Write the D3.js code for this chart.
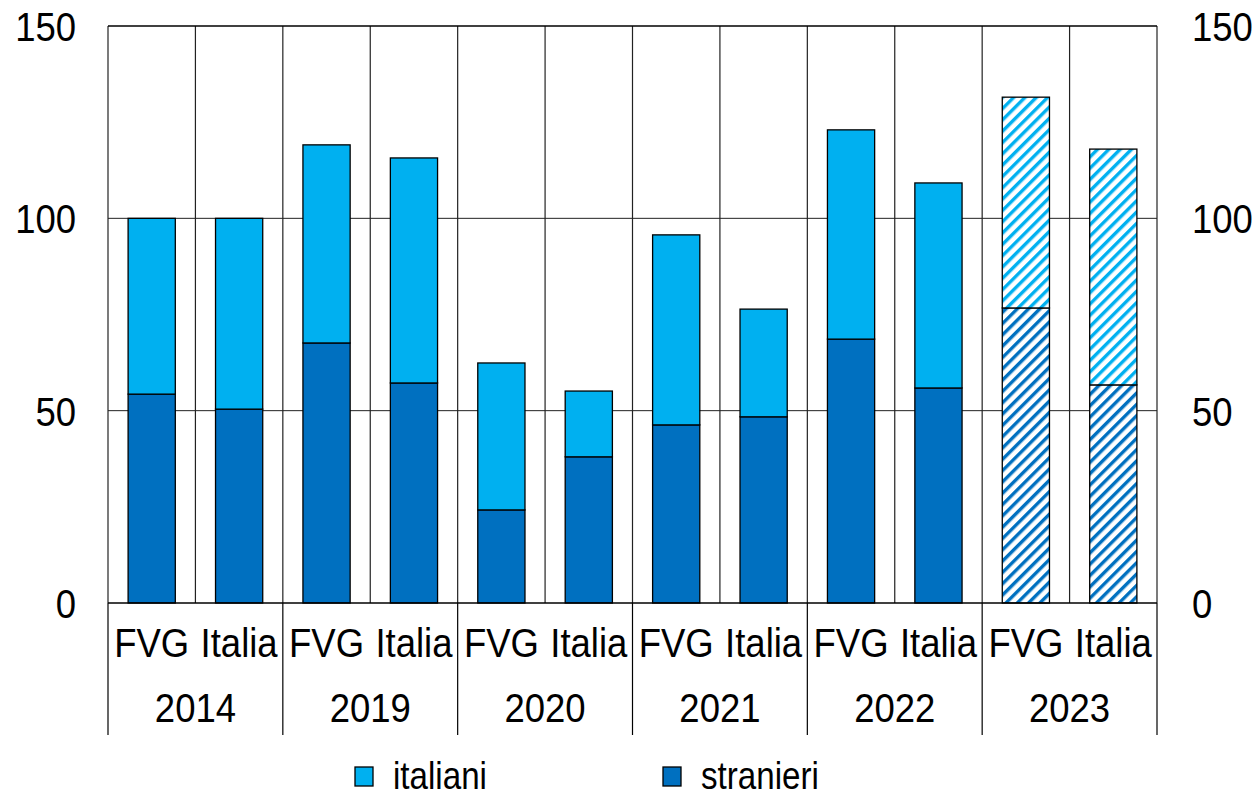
<!DOCTYPE html>
<html>
<head>
<meta charset="utf-8">
<script src="https://cdn.jsdelivr.net/npm/d3@7"></script>
<style>
  body { margin: 0; background: #fff; }
  svg { display: block; font-family: "Liberation Sans", Arial, sans-serif; }
</style>
</head>
<body>
<div id="viz"></div>
<script>
// Data
const years = ["2014", "2019", "2020", "2021", "2022", "2023"];
const areas = ["FVG", "Italia"];
const stranieri = [54.3, 50.4, 67.6, 57.2, 24.2, 38.0, 46.3, 48.4, 68.6, 55.9, 76.7, 56.7];
const italiani  = [45.7, 49.6, 51.5, 58.5, 38.2, 17.1, 49.4, 28.0, 54.4, 53.3, 54.8, 61.3];
const yTicks = [0, 50, 100, 150];
const hatchedYear = "2023";

const width = 1258, height = 799;
const margin = { top: 26, right: 101, bottom: 196, left: 108 };

const svg = d3.select("#viz").append("svg")
    .attr("width", width)
    .attr("height", height);

// patterns for the estimated year
const defs = svg.append("defs");
[["hatch-it", "#00B0F0"], ["hatch-st", "#0070C0"]].forEach(([id, col]) => {
    const p = defs.append("pattern")
        .attr("id", id)
        .attr("patternUnits", "userSpaceOnUse")
        .attr("width", 8).attr("height", 8)
        .attr("patternTransform", "rotate(45)");
    p.append("rect").attr("width", 8).attr("height", 8).attr("fill", "#fff");
    p.append("rect").attr("x", 0).attr("width", 3.4).attr("height", 8).attr("fill", col);
});

// rows: one per bar
const rows = [];
years.forEach((yr, i) => {
    areas.forEach((a, j) => {
        const k = i * 2 + j;
        rows.push({ key: yr + "-" + a, year: yr, area: a, stranieri: stranieri[k], italiani: italiani[k] });
    });
});

const x = d3.scaleBand()
    .domain(rows.map(d => d.key))
    .range([margin.left, width - margin.right])
    .paddingInner(0.46)
    .paddingOuter(0.23);

const xYear = d3.scaleBand()
    .domain(years)
    .range([margin.left, width - margin.right]);

const y = d3.scaleLinear()
    .domain([0, 150])
    .range([height - margin.bottom, margin.top]);

const x0 = margin.left, x1 = width - margin.right;

// horizontal gridlines
svg.append("g").selectAll("line")
    .data(yTicks.filter(t => t > 0 && t < 150))
    .join("line")
    .attr("x1", x0).attr("x2", x1)
    .attr("y1", d => y(d)).attr("y2", d => y(d))
    .attr("stroke", "#222").attr("stroke-width", 1);

// vertical separators inside the plot (every slot)
const slotEdges = d3.range(rows.length + 1).map(i => x0 + i * (x1 - x0) / rows.length);
svg.append("g").selectAll("line")
    .data(slotEdges)
    .join("line")
    .attr("x1", d => d).attr("x2", d => d)
    .attr("y1", y(150)).attr("y2", y(0))
    .attr("stroke", "#222").attr("stroke-width", 1.2);

// year separators extending below axis
svg.append("g").selectAll("line")
    .data(years.map(yr => xYear(yr)).concat([x1]))
    .join("line")
    .attr("x1", d => d).attr("x2", d => d)
    .attr("y1", y(0)).attr("y2", 735)
    .attr("stroke", "#000").attr("stroke-width", 1.2);

// top border
svg.append("line")
    .attr("x1", x0).attr("x2", x1)
    .attr("y1", y(150)).attr("y2", y(150))
    .attr("stroke", "#000").attr("stroke-width", 1.5);

// stacked bars
const bars = svg.append("g");
rows.forEach(d => {
    const hatched = d.year === hatchedYear;
    bars.append("rect")
        .attr("x", x(d.key))
        .attr("width", x.bandwidth())
        .attr("y", y(d.stranieri))
        .attr("height", y(0) - y(d.stranieri))
        .attr("fill", hatched ? "url(#hatch-st)" : "#0070C0")
        .attr("stroke", "#000").attr("stroke-width", 1.3);
    bars.append("rect")
        .attr("x", x(d.key))
        .attr("width", x.bandwidth())
        .attr("y", y(d.stranieri + d.italiani))
        .attr("height", y(d.stranieri) - y(d.stranieri + d.italiani))
        .attr("fill", hatched ? "url(#hatch-it)" : "#00B0F0")
        .attr("stroke", "#000").attr("stroke-width", 1.3);
});

// zero axis
svg.append("line")
    .attr("x1", x0).attr("x2", x1)
    .attr("y1", y(0)).attr("y2", y(0))
    .attr("stroke", "#000").attr("stroke-width", 1.5);

// condensed text helper (the original font is slightly narrow)
function label(g, tx, ty, txt, anchor, sx = 0.89, fs = 41) {
    return g.append("text")
        .attr("transform", `translate(${tx},${ty}) scale(${sx},1)`)
        .attr("text-anchor", anchor)
        .attr("font-size", fs)
        .attr("fill", "#000")
        .text(txt);
}

// y tick labels, both sides
const tickG = svg.append("g");
yTicks.forEach(t => {
    label(tickG, 76, y(t) + 15, t, "end");
    label(tickG, 1192, y(t) + 15, t, "start");
});

// category labels
const catG = svg.append("g");
rows.forEach(d => {
    label(catG, x(d.key) + x.bandwidth() / 2, 657, d.area, "middle");
});
years.forEach(yr => {
    label(catG, xYear(yr) + xYear.bandwidth() / 2, 722, yr, "middle");
});

// legend
const legend = svg.append("g");
[["italiani", "#00B0F0", 355], ["stranieri", "#0070C0", 663]].forEach(([name, col, lx]) => {
    legend.append("rect")
        .attr("x", lx).attr("y", 767)
        .attr("width", 18).attr("height", 19)
        .attr("fill", col)
        .attr("stroke", "#000").attr("stroke-width", 1.3);
    label(legend, lx + 38, 789, name, "start", 0.85, 39);
});
</script>
</body>
</html>
